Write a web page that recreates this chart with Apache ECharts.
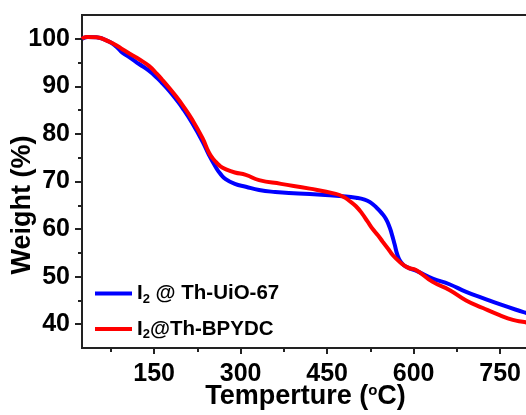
<!DOCTYPE html>
<html>
<head>
<meta charset="utf-8">
<script src="https://cdn.jsdelivr.net/npm/echarts@6/dist/echarts.min.js"></script>
<style>
  html, body { margin: 0; padding: 0; background: #fff; }
  #chart { width: 526px; height: 415px; }
</style>
</head>
<body>
<div id="chart"></div>
<script>
// TGA curves: [temperature (°C), weight (%)]
const uio67 = [
  [25, 100.0], [35, 100.4], [50, 100.3], [72, 99.4], [85, 98.3], [95, 97.1],
  [110, 95.9], [124, 94.7], [141, 93.3], [155, 91.8], [164, 90.7], [176, 89.1],
  [188, 87.3], [199, 85.5], [216, 82.3], [234, 78.4], [245, 75.6], [257, 73.0],
  [265, 71.6], [274, 70.5], [290, 69.5], [309, 68.9], [332, 68.2], [360, 67.8],
  [400, 67.5], [440, 67.2], [477, 66.9], [500, 66.6], [515, 66.2], [525, 65.6],
  [535, 64.6], [545, 63.3], [552, 62.1], [558, 60.5], [562, 59.0], [567, 56.8],
  [572, 54.5], [577, 53.2], [583, 52.4], [592, 51.8], [605, 51.2], [633, 49.6],
  [662, 48.4], [691, 46.8], [720, 45.5], [749, 44.2], [789, 42.6], [800, 42.2]
];
const bpydc = [
  [25, 100.0], [32, 100.4], [50, 100.3], [72, 99.4], [85, 98.6], [95, 97.8],
  [110, 96.7], [124, 95.7], [141, 94.3], [155, 92.6], [164, 91.4], [176, 89.7],
  [188, 87.9], [199, 86.1], [216, 83.0], [234, 79.1], [245, 76.1], [252, 74.8],
  [258, 74.0], [265, 73.2], [274, 72.6], [290, 71.9], [309, 71.4], [332, 70.3],
  [370, 69.5], [420, 68.5], [465, 67.4], [478, 66.8], [490, 65.8], [500, 64.8],
  [511, 63.2], [520, 61.6], [529, 60.0], [538, 58.7], [546, 57.4], [556, 55.8],
  [564, 54.5], [575, 53.2], [590, 51.9], [604, 51.4], [633, 48.9], [662, 47.2],
  [691, 45.0], [720, 43.4], [749, 41.9], [772, 40.9], [789, 40.5], [800, 40.3]
];
const seriesNames = ['I2 @ Th-UiO-67', 'I2@Th-BPYDC'];
const legendRich = {
  'I2 @ Th-UiO-67': '{n|I}{s|2}{n| @ Th-UiO-67}',
  'I2@Th-BPYDC': '{n|I}{s|2}{n|@Th-BPYDC}'
};

// Axis ticks and labels
const xMajor = [150, 300, 450, 600, 750];
const xMinor = [75, 225, 375, 525, 675];
const yMajor = [40, 50, 60, 70, 80, 90, 100];
const yMinor = [45, 55, 65, 75, 85, 95];
const xRange = [25, 800];
const yRange = [35, 105];

const axisColor = '#222';
const font = 'Liberation Sans, Arial, sans-serif';

const chart = echarts.init(document.getElementById('chart'), null, { renderer: 'canvas' });

const baseX = {
  type: 'value', gridIndex: 0, position: 'bottom',
  min: xRange[0], max: xRange[1],
  splitLine: { show: false }
};
const baseY = {
  type: 'value', gridIndex: 0, position: 'left',
  min: yRange[0], max: yRange[1],
  splitLine: { show: false }
};

chart.setOption({
  animation: false,
  backgroundColor: '#fff',
  grid: {
    left: 82, right: -3, top: 15, bottom: 67,
    outerBoundsMode: 'none',
    containLabel: false,
    show: true, borderColor: axisColor, borderWidth: 2, backgroundColor: 'transparent'
  },
  xAxis: [
    Object.assign({}, baseX, {
      axisLine: { show: true, lineStyle: { color: axisColor, width: 2 } },
      axisTick: { show: true, inside: false, length: 6, customValues: xMajor,
                  lineStyle: { color: axisColor, width: 2 } },
      axisLabel: { show: true, customValues: xMajor, margin: 14,
                   color: '#000', fontFamily: font, fontWeight: 'bold', fontSize: 25 },
      name: 'Temperture ({sup|o}C)',
      nameLocation: 'middle',
      nameGap: 35,
      nameMoveOverlap: false,
      nameTextStyle: {
        color: '#000', fontFamily: font, fontWeight: 'bold', fontSize: 27, lineHeight: 28,
        rich: {
          sup: { color: '#000', fontFamily: font, fontWeight: 'bold', fontSize: 15,
                 lineHeight: 16, verticalAlign: 'top' }
        }
      }
    }),
    Object.assign({}, baseX, {
      axisLine: { show: false },
      axisTick: { show: true, inside: false, length: 4, customValues: xMinor,
                  lineStyle: { color: axisColor, width: 2 } },
      axisLabel: { show: false }
    })
  ],
  yAxis: [
    Object.assign({}, baseY, {
      axisLine: { show: true, lineStyle: { color: axisColor, width: 2 } },
      axisTick: { show: true, inside: false, length: 7, customValues: yMajor,
                  lineStyle: { color: axisColor, width: 2 } },
      axisLabel: { show: true, customValues: yMajor, margin: 12,
                   color: '#000', fontFamily: font, fontWeight: 'bold', fontSize: 25 }
    }),
    Object.assign({}, baseY, {
      axisLine: { show: false },
      axisTick: { show: true, inside: false, length: 4, customValues: yMinor,
                  lineStyle: { color: axisColor, width: 2 } },
      axisLabel: { show: false }
    })
  ],
  legend: {
    orient: 'vertical',
    left: 90, top: 278,
    icon: 'rect',
    itemWidth: 37, itemHeight: 4, itemGap: 13,
    data: seriesNames,
    formatter: name => legendRich[name],
    textStyle: {
      rich: {
        n: { color: '#000', fontFamily: font, fontWeight: 'bold', fontSize: 20.5, lineHeight: 24 },
        s: { color: '#000', fontFamily: font, fontWeight: 'bold', fontSize: 13, lineHeight: 12,
             verticalAlign: 'bottom' }
      }
    }
  },
  graphic: [{
    type: 'text',
    x: 23, y: 205,
    rotation: Math.PI / 2,
    style: {
      text: 'Weight (%)',
      fill: '#000',
      font: 'bold 27px ' + font,
      align: 'center',
      verticalAlign: 'middle'
    }
  }],
  series: [
    {
      name: seriesNames[0], type: 'line', data: uio67,
      symbol: 'none', smooth: 0.5,
      lineStyle: { color: '#0000ff', width: 4 },
      itemStyle: { color: '#0000ff' }
    },
    {
      name: seriesNames[1], type: 'line', data: bpydc,
      symbol: 'none', smooth: 0.5,
      lineStyle: { color: '#ff0000', width: 4 },
      itemStyle: { color: '#ff0000' }
    }
  ]
});
</script>
</body>
</html>
